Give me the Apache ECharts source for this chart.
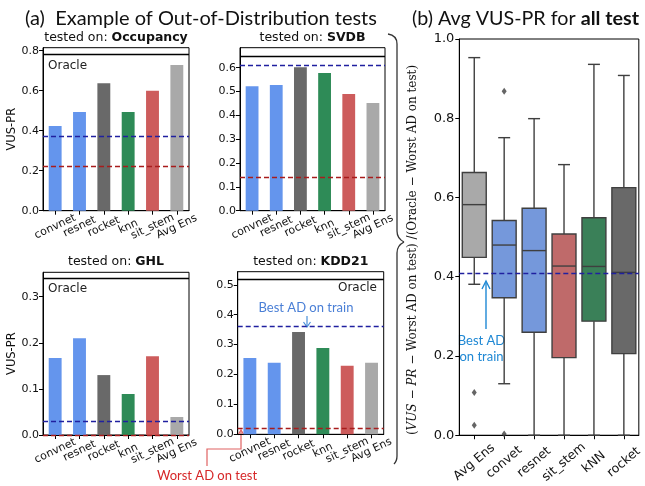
<!DOCTYPE html>
<html><head><meta charset="utf-8">
<script src="https://cdn.jsdelivr.net/npm/echarts@6/dist/echarts.min.js"></script>
<style>html,body{margin:0;padding:0;background:#fff}#c{width:645px;height:486px}</style>
</head><body><div id="c"></div>
<script>
// ---------- data ----------
const barCats = ['convnet', 'resnet', 'rocket', 'knn', 'sit_stem', 'Avg Ens'];
const barColors = ['#6495ED', '#6495ED', '#696969', '#2E8B57', '#CD5C5C', '#A9A9A9'];
const panelNames = ['Occupancy', 'SVDB', 'GHL', 'KDD21'];
const occupancyVals = [0.423, 0.493, 0.637, 0.493, 0.600, 0.728];
const svdbVals = [0.522, 0.527, 0.602, 0.578, 0.490, 0.452];
const ghlVals = [0.167, 0.210, 0.130, 0.089, 0.171, 0.039];
const kdd21Vals = [0.255, 0.239, 0.342, 0.289, 0.229, 0.239];
const bestTrain = [0.373, 0.614, 0.027, 0.356];
const worstTest = [0.222, 0.138, 0.003, 0.019];
const oracleVals = [0.775, 0.653, 0.336, 0.519];
const yMaxes = [0.815, 0.684, 0.353, 0.544];
const yTickLists = [
  [0.0, 0.2, 0.4, 0.6, 0.8],
  [0.0, 0.1, 0.2, 0.3, 0.4, 0.5, 0.6],
  [0.0, 0.1, 0.2, 0.3],
  [0.0, 0.1, 0.2, 0.3, 0.4, 0.5]
];
const yIntervals = [0.2, 0.1, 0.1, 0.1];

const boxCats = ['Avg Ens', 'convet', 'resnet', 'sit_stem', 'kNN', 'rocket'];
const boxColors = ['#A9A9A9', '#7598DB', '#7598DB', '#BF6A6A', '#3A8058', '#696969'];
// [low whisker, Q1, median, Q3, high whisker]
const boxStats = [
  [0.381, 0.449, 0.582, 0.663, 0.953],
  [0.130, 0.347, 0.480, 0.542, 0.751],
  [0.000, 0.260, 0.466, 0.573, 0.799],
  [0.000, 0.196, 0.427, 0.508, 0.683],
  [0.000, 0.288, 0.426, 0.549, 0.936],
  [0.000, 0.206, 0.411, 0.625, 0.908]
];
const boxOutliers = [['Avg Ens', 0.108], ['Avg Ens', 0.025], ['convet', 0.868], ['convet', 0.003]];
const boxBestTrain = 0.405;

// ---------- layout ----------
const panelVals = [occupancyVals, svdbVals, ghlVals, kdd21Vals];
const grids = [
  {left: 43, top: 47.7, width: 146, height: 163},
  {left: 240, top: 47.7, width: 145, height: 163},
  {left: 43, top: 272.3, width: 146, height: 162.7},
  {left: 237.7, top: 271.7, width: 146, height: 162.6},
  {left: 459.3, top: 39, width: 181.7, height: 401}
];
const TF = 'DejaVu Sans';
const chart = echarts.init(document.getElementById('c'), null, {renderer: 'canvas'});

const gridOpts = grids.map(g => Object.assign({show: true, borderColor: '#000', borderWidth: 1, containLabel: false}, g));
const xAxes = [], yAxes = [], series = [];

for (let k = 0; k < 4; k++) {
  xAxes.push({
    gridIndex: k, type: 'category', data: barCats,
    axisLine: {show: true, lineStyle: {color: '#000', width: 1}},
    axisTick: {show: true, alignWithLabel: true, length: 4, lineStyle: {color: '#000'}},
    axisLabel: {interval: 0, rotate: 25, align: 'center', verticalAlign: 'middle', margin: 16,
      fontSize: 11, fontFamily: TF, color: '#111'},
    splitLine: {show: false}
  });
  yAxes.push({
    gridIndex: k, type: 'value', min: 0, max: yMaxes[k], interval: yIntervals[k],
    splitLine: {show: false},
    axisLine: {show: true, lineStyle: {color: '#000', width: 1}},
    axisTick: {show: true, length: 4, customValues: yTickLists[k], lineStyle: {color: '#000'}},
    axisLabel: {customValues: yTickLists[k], formatter: v => Number(v).toFixed(1), fontSize: 11, fontFamily: TF, color: '#111', margin: 4},
    name: (k % 2 === 0) ? 'VUS-PR' : '', nameLocation: 'middle', nameGap: 23,
    nameTextStyle: {fontSize: 11.5, fontFamily: TF, color: '#111'}
  });
  series.push({
    type: 'bar', xAxisIndex: k, yAxisIndex: k, barWidth: '53%', silent: true,
    data: panelVals[k].map((v, i) => ({value: v, itemStyle: {color: barColors[i]}})),
    markLine: {
      silent: true, symbol: 'none', label: {show: false},
      data: [
        {yAxis: oracleVals[k], lineStyle: {color: '#000', width: 1.4, type: 'solid'}},
        {yAxis: bestTrain[k], lineStyle: {color: '#2020A0', width: 1.4, type: [5, 3]}},
        {yAxis: worstTest[k], lineStyle: {color: '#A81C1C', width: 1.4, type: [5, 3]}}
      ]
    }
  });
}

// box plot panel
xAxes.push({
  gridIndex: 4, type: 'category', data: boxCats,
  axisLine: {show: true, lineStyle: {color: '#000'}},
  axisTick: {show: true, alignWithLabel: true, length: 4, lineStyle: {color: '#000'}},
  axisLabel: {interval: 0, rotate: 40, align: 'center', verticalAlign: 'middle', margin: 27,
    fontSize: 12.5, fontFamily: TF, color: '#111'},
  splitLine: {show: false}
});
yAxes.push({
  gridIndex: 4, type: 'value', min: 0, max: 1.0, interval: 0.2,
  splitLine: {show: false},
  axisLine: {show: true, lineStyle: {color: '#000'}},
  axisTick: {show: true, length: 4, lineStyle: {color: '#000'}},
  axisLabel: {formatter: v => Number(v).toFixed(1), fontSize: 13, fontFamily: TF, color: '#111', margin: 5}
});

function renderBox(params, api) {
  const i = api.value(0);
  const lo = api.coord([i, api.value(1)]);
  const q1 = api.coord([i, api.value(2)]);
  const med = api.coord([i, api.value(3)]);
  const q3 = api.coord([i, api.value(4)]);
  const hi = api.coord([i, api.value(5)]);
  const bw = api.size([1, 0])[0] * 0.8;
  const cx = lo[0];
  const st = {stroke: '#3F3F3F', lineWidth: 1.4};
  return {type: 'group', children: [
    {type: 'line', shape: {x1: cx, y1: q3[1], x2: cx, y2: hi[1]}, style: st},
    {type: 'line', shape: {x1: cx, y1: q1[1], x2: cx, y2: lo[1]}, style: st},
    {type: 'line', shape: {x1: cx - bw / 4, y1: hi[1], x2: cx + bw / 4, y2: hi[1]}, style: st},
    {type: 'line', shape: {x1: cx - bw / 4, y1: lo[1], x2: cx + bw / 4, y2: lo[1]}, style: st},
    {type: 'rect', shape: {x: cx - bw / 2, y: q3[1], width: bw, height: q1[1] - q3[1]},
      style: {fill: api.visual('color'), stroke: '#3F3F3F', lineWidth: 1.4}},
    {type: 'line', shape: {x1: cx - bw / 2, y1: med[1], x2: cx + bw / 2, y2: med[1]}, style: st}
  ]};
}
series.push({
  type: 'custom', xAxisIndex: 4, yAxisIndex: 4, silent: true,
  renderItem: renderBox,
  encode: {x: 0, y: [1, 2, 3, 4, 5]},
  data: boxStats.map((s, i) => ({value: [i].concat(s), itemStyle: {color: boxColors[i]}})),
  markLine: {
    silent: true, symbol: 'none', label: {show: false},
    data: [{yAxis: boxBestTrain, lineStyle: {color: '#2020A0', width: 1.4, type: [5, 3]}}]
  },
  z: 2
});
series.push({
  type: 'scatter', xAxisIndex: 4, yAxisIndex: 4, silent: true,
  symbol: 'diamond', symbolSize: [5, 7],
  itemStyle: {color: '#3F3F3F'},
  data: boxOutliers, z: 3
});

// ---------- annotations ----------
const titleFont = 'Lato';
const graphics = [
  {type: 'text', x: 25, y: 19, style: {text: '(a)  Example of Out-of-Distribution tests', fontFamily: titleFont, fontSize: 20, fill: '#111', verticalAlign: 'middle', align: 'left'}},
  {type: 'text', x: 412, y: 19, style: {text: '{n|(b) Avg VUS-PR for }{b|all test}', verticalAlign: 'middle', align: 'left',
    rich: {n: {fontFamily: titleFont, fontSize: 19.7, fill: '#111'}, b: {fontFamily: titleFont, fontSize: 19.7, fontWeight: 'bold', fill: '#111'}}}}
];
const subTitlePos = [[116, 37.5], [312.5, 37.5], [116, 262], [310.8, 262]];
panelNames.forEach((nm, k) => {
  graphics.push({type: 'text', x: subTitlePos[k][0], y: subTitlePos[k][1], style: {
    text: '{n|tested on: }{b|' + nm + '}', align: 'center', verticalAlign: 'middle',
    rich: {n: {fontFamily: TF, fontSize: 12.5, fill: '#111'}, b: {fontFamily: TF, fontSize: 12.5, fontWeight: 'bold', fill: '#111'}}}});
});
const oracleTxt = {fontFamily: TF, fontSize: 12, fill: '#222', verticalAlign: 'middle'};
graphics.push({type: 'text', x: 48, y: 66, style: Object.assign({text: 'Oracle', align: 'left'}, oracleTxt)});
graphics.push({type: 'text', x: 48, y: 288.5, style: Object.assign({text: 'Oracle', align: 'left'}, oracleTxt)});
graphics.push({type: 'text', x: 377, y: 288, style: Object.assign({text: 'Oracle', align: 'right'}, oracleTxt)});
// box plot y label (rotated)
graphics.push({type: 'text', x: 413, y: 250, rotation: Math.PI / 2, style: {
  text: '{p|(}{i|VUS}{p| − }{i|PR}{p| − Worst AD on test) /(Oracle − Worst AD on test)}',
  align: 'center', verticalAlign: 'middle',
  rich: {
    p: {fontFamily: 'DejaVu Serif', fontSize: 12, fill: '#111'},
    i: {fontFamily: 'DejaVu Serif', fontStyle: 'italic', fontSize: 12, fill: '#111'}
  }}});
// Best AD on train (KDD21)
graphics.push({type: 'text', x: 306, y: 308, style: {text: 'Best AD on train', fontFamily: titleFont, fontSize: 13, fill: '#4A7FD6', align: 'center', verticalAlign: 'middle'}});
graphics.push({type: 'polyline', shape: {points: [[307, 316], [307, 327]]}, style: {stroke: '#4A90D9', lineWidth: 1.2}});
graphics.push({type: 'polyline', shape: {points: [[303.5, 322], [307, 327], [310.5, 322]]}, style: {stroke: '#4A90D9', lineWidth: 1.2, fill: null}});
// Best AD on train (box plot)
graphics.push({type: 'text', x: 481.5, y: 341, style: {text: 'Best AD', fontFamily: titleFont, fontSize: 13, fill: '#1F88D4', align: 'center', verticalAlign: 'middle'}});
graphics.push({type: 'text', x: 481.5, y: 357, style: {text: 'on train', fontFamily: titleFont, fontSize: 13, fill: '#1F88D4', align: 'center', verticalAlign: 'middle'}});
graphics.push({type: 'polyline', shape: {points: [[486, 329], [486, 283]]}, style: {stroke: '#1F88D4', lineWidth: 1.4}});
graphics.push({type: 'polyline', shape: {points: [[482, 289], [486, 281], [490, 289]]}, style: {stroke: '#1F88D4', lineWidth: 1.4, fill: null}});
// Worst AD on test
graphics.push({type: 'text', x: 207, y: 476, style: {text: 'Worst AD on test', fontFamily: titleFont, fontSize: 13, fill: '#D62728', align: 'center', verticalAlign: 'middle'}});
graphics.push({type: 'polyline', shape: {points: [[207, 466], [207, 449], [241, 449], [241, 431]]}, style: {stroke: '#E06262', lineWidth: 1.2, fill: null}});
graphics.push({type: 'polyline', shape: {points: [[238, 435], [241, 430], [244, 435]]}, style: {stroke: '#E06262', lineWidth: 1.2, fill: null}});
// curly brace
const braceStyle = {stroke: '#333', lineWidth: 1.3, fill: null};
graphics.push({type: 'bezierCurve', shape: {x1: 388, y1: 34, cpx1: 394, cpy1: 35, cpx2: 397, cpy2: 38, x2: 397, y2: 44}, style: braceStyle});
graphics.push({type: 'line', shape: {x1: 397, y1: 44, x2: 397, y2: 231}, style: braceStyle});
graphics.push({type: 'bezierCurve', shape: {x1: 397, y1: 231, cpx1: 397, cpy1: 237, cpx2: 400, cpy2: 240, x2: 404, y2: 242}, style: braceStyle});
graphics.push({type: 'bezierCurve', shape: {x1: 404, y1: 242, cpx1: 400, cpy1: 244, cpx2: 397, cpy2: 247, x2: 397, y2: 253}, style: braceStyle});
graphics.push({type: 'line', shape: {x1: 397, y1: 253, x2: 397, y2: 456}, style: braceStyle});
graphics.push({type: 'bezierCurve', shape: {x1: 397, y1: 456, cpx1: 397, cpy1: 460, cpx2: 396, cpy2: 462, x2: 394, y2: 464}, style: braceStyle});

chart.setOption({
  animation: false,
  backgroundColor: '#fff',
  grid: gridOpts,
  xAxis: xAxes,
  yAxis: yAxes,
  series: series,
  graphic: graphics
});
</script></body></html>
